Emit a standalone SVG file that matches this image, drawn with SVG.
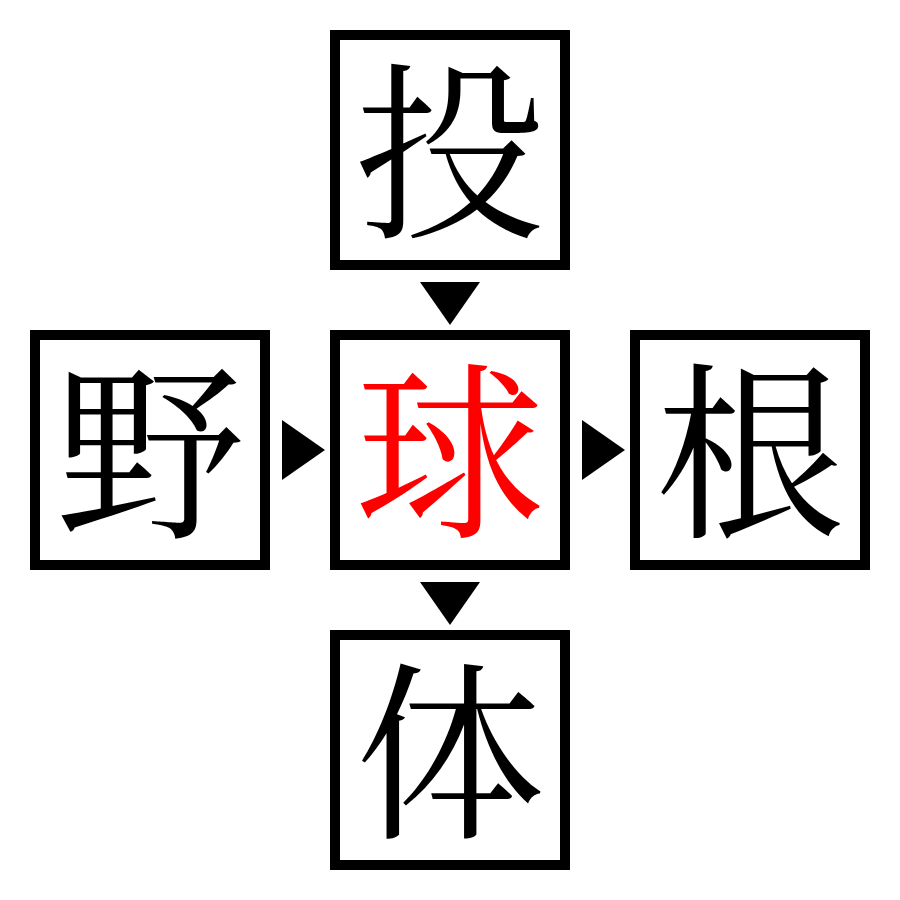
<svg xmlns="http://www.w3.org/2000/svg" width="900" height="900" viewBox="0 0 900 900">
<style>
.box{fill:#fff;stroke:#000;stroke-width:10}
.ch{font-family:"Noto Serif CJK JP","Noto Sans CJK JP",serif;font-size:190px;text-anchor:middle;dominant-baseline:central;fill:#000}
.red{fill:#ff0000}
.arr{fill:#000}
</style>
<rect width="900" height="900" fill="#fff"/>
<g id="node-top"><rect class="box" x="335" y="35" width="230" height="230"/><text class="ch" x="450" y="140">投</text></g>
<g id="node-left"><rect class="box" x="35" y="335" width="230" height="230"/><text class="ch" x="150" y="440">野</text></g>
<g id="node-center"><rect class="box" x="335" y="335" width="230" height="230"/><text class="ch red" x="450" y="440">球</text></g>
<g id="node-right"><rect class="box" x="635" y="335" width="230" height="230"/><text class="ch" x="750" y="440">根</text></g>
<g id="node-bottom"><rect class="box" x="335" y="635" width="230" height="230"/><text class="ch" x="450" y="740">体</text></g>
<g id="connectors">
<polygon class="arr" points="420,282 480,282 450,325"/>
<polygon class="arr" points="282,420 282,480 325,450"/>
<polygon class="arr" points="582,420 582,480 625,450"/>
<polygon class="arr" points="420,582 480,582 450,625"/>
</g>
</svg>
